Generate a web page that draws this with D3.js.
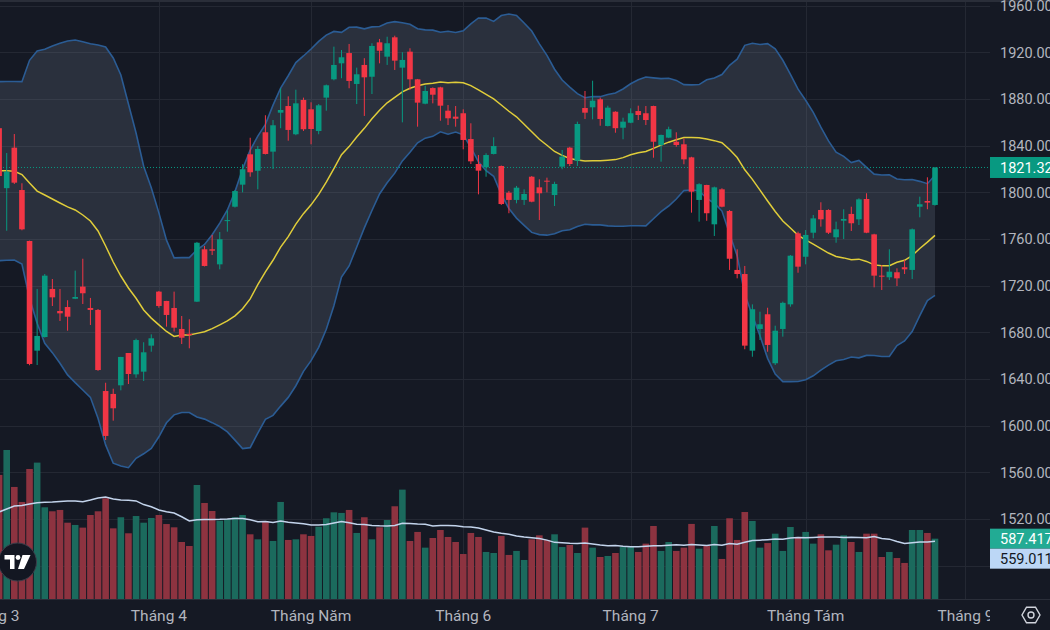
<!DOCTYPE html>
<html>
<head>
<meta charset="utf-8">
<script src="https://cdn.jsdelivr.net/npm/d3@7"></script>
<style>
  html, body { margin: 0; background: #151924; overflow: hidden; }
  text { font-family: Roboto, "Noto Sans", sans-serif; }
</style>
</head>
<body>
<svg id="chart"></svg>
<script>
// daily candles, first one is cut at the left edge
const open = [
  1855.0, 1803.6, 1838.3, 1802.0, 1758.3, 1664.3, 1676.0, 1717.2, 1698.3, 1701.7,
  1708.8, 1719.2, 1700.9, 1699.2, 1629.7, 1627.2, 1634.6, 1662.3, 1644.0, 1646.3,
  1668.6, 1714.9, 1706.9, 1700.9, 1682.9, 1678.8, 1706.3, 1751.2, 1751.2, 1738.3,
  1775.5, 1787.7, 1806.6, 1832.6, 1818.5, 1851.5, 1834.9, 1868.3, 1874.0, 1849.8,
  1879.2, 1871.2, 1852.6, 1881.2, 1896.9, 1910.6, 1919.4, 1892.9, 1909.2, 1899.1,
  1928.6, 1916.3, 1932.9, 1906.9, 1920.6, 1896.9, 1876.0, 1889.4, 1890.0, 1870.0,
  1864.9, 1867.8, 1845.7, 1824.3, 1821.5, 1832.9, 1822.6, 1799.7, 1793.5, 1793.5,
  1813.4, 1804.3, 1810.0, 1797.7, 1822.0, 1838.3, 1827.1, 1872.3, 1872.9, 1879.8,
  1856.9, 1869.1, 1855.4, 1859.7, 1869.7, 1867.8, 1874.0, 1840.6, 1846.9, 1843.4,
  1841.2, 1830.0, 1793.5, 1806.3, 1772.6, 1802.6, 1784.0, 1733.5, 1730.0, 1664.3,
  1682.9, 1695.5, 1653.5, 1682.9, 1704.0, 1764.9, 1744.8, 1765.4, 1784.9, 1784.9,
  1761.5, 1775.7, 1781.5, 1776.9, 1794.3, 1764.0, 1728.6, 1727.2, 1731.5, 1735.8,
  1733.5, 1787.7, 1792.6, 1789.2
];
const high = [
  1857.0, 1833.7, 1850.0, 1807.8, 1758.6, 1717.2, 1730.0, 1725.7, 1717.2, 1707.5,
  1732.9, 1743.1, 1709.5, 1700.0, 1636.8, 1631.7, 1659.0, 1662.3, 1674.6, 1671.5,
  1678.3, 1715.5, 1707.0, 1714.9, 1694.0, 1691.2, 1757.5, 1754.0, 1763.5, 1766.0,
  1784.3, 1802.0, 1824.1, 1846.8, 1839.7, 1866.1, 1862.0, 1889.2, 1882.3, 1888.0,
  1881.2, 1877.2, 1875.7, 1892.4, 1924.9, 1922.0, 1927.2, 1906.9, 1915.0, 1927.8,
  1931.5, 1933.4, 1934.3, 1920.1, 1923.5, 1897.2, 1891.4, 1890.0, 1890.5, 1874.9,
  1874.0, 1871.2, 1859.2, 1832.0, 1833.5, 1847.2, 1823.0, 1801.2, 1805.5, 1802.6,
  1814.0, 1811.2, 1812.6, 1809.1, 1836.3, 1839.0, 1860.6, 1886.9, 1895.7, 1881.2,
  1874.3, 1869.5, 1864.0, 1872.0, 1874.3, 1874.0, 1874.3, 1849.5, 1856.3, 1851.5,
  1846.3, 1830.5, 1807.8, 1806.5, 1804.9, 1803.5, 1784.9, 1751.2, 1736.9, 1704.0,
  1697.7, 1701.1, 1685.7, 1706.3, 1746.3, 1766.3, 1767.7, 1780.6, 1791.5, 1785.5,
  1774.9, 1785.5, 1787.7, 1794.9, 1799.2, 1764.5, 1737.7, 1751.2, 1734.9, 1742.0,
  1769.0, 1796.3, 1812.9, 1821.6
];
const low = [
  1812.0, 1767.1, 1807.2, 1767.5, 1651.8, 1652.0, 1675.5, 1702.6, 1689.7, 1681.4,
  1708.5, 1704.3, 1686.3, 1647.0, 1587.7, 1604.3, 1630.3, 1635.7, 1641.1, 1638.3,
  1663.4, 1701.1, 1684.9, 1680.6, 1670.0, 1666.3, 1706.0, 1736.5, 1746.3, 1734.0,
  1766.3, 1787.0, 1800.0, 1813.4, 1802.6, 1832.5, 1820.0, 1855.0, 1844.3, 1849.0,
  1852.6, 1841.2, 1849.8, 1870.0, 1896.0, 1897.8, 1889.2, 1875.7, 1865.5, 1884.3,
  1910.6, 1909.2, 1904.9, 1860.0, 1887.7, 1856.3, 1875.5, 1876.3, 1861.4, 1857.7,
  1856.3, 1836.9, 1824.3, 1798.3, 1813.4, 1832.5, 1789.2, 1782.1, 1790.6, 1789.2,
  1791.5, 1776.3, 1800.0, 1788.3, 1819.8, 1822.6, 1822.6, 1862.9, 1862.6, 1857.1,
  1856.5, 1851.1, 1845.5, 1859.3, 1862.0, 1857.7, 1829.7, 1826.3, 1846.5, 1839.1,
  1824.1, 1782.6, 1774.9, 1775.6, 1762.6, 1787.2, 1733.5, 1726.3, 1665.5, 1659.1,
  1673.4, 1663.4, 1652.0, 1676.3, 1702.0, 1731.1, 1738.3, 1760.6, 1770.6, 1764.3,
  1756.8, 1760.0, 1766.9, 1772.0, 1765.0, 1718.6, 1716.3, 1724.9, 1719.7, 1730.0,
  1725.7, 1778.6, 1785.5, 1788.6
];
const close = [
  1814.0, 1817.7, 1808.3, 1768.3, 1652.9, 1676.9, 1728.6, 1710.0, 1696.3, 1693.4,
  1710.3, 1713.5, 1699.2, 1647.7, 1591.2, 1614.9, 1658.9, 1644.3, 1673.4, 1662.9,
  1674.9, 1702.6, 1694.9, 1684.0, 1675.4, 1677.7, 1756.8, 1736.9, 1750.0, 1759.8,
  1776.2, 1801.1, 1819.8, 1817.2, 1837.2, 1832.9, 1857.5, 1870.6, 1853.5, 1876.3,
  1854.1, 1854.3, 1874.6, 1891.8, 1909.2, 1915.8, 1895.5, 1901.2, 1898.6, 1925.5,
  1921.4, 1927.8, 1912.9, 1913.5, 1896.9, 1876.9, 1886.9, 1883.7, 1874.3, 1863.5,
  1863.1, 1844.9, 1826.6, 1818.6, 1832.0, 1839.7, 1790.0, 1793.5, 1804.0, 1798.6,
  1792.0, 1799.2, 1809.2, 1807.2, 1830.6, 1824.3, 1858.6, 1868.3, 1878.6, 1862.9,
  1872.6, 1855.0, 1860.6, 1867.8, 1866.3, 1862.0, 1843.4, 1849.2, 1854.1, 1840.6,
  1828.3, 1800.6, 1807.0, 1782.1, 1804.3, 1787.7, 1743.1, 1730.0, 1668.6, 1699.8,
  1686.9, 1669.2, 1681.4, 1705.3, 1745.7, 1736.3, 1763.5, 1777.7, 1776.9, 1765.4,
  1768.3, 1777.2, 1773.5, 1794.0, 1765.4, 1728.6, 1727.7, 1732.0, 1726.3, 1734.0,
  1768.3, 1789.8, 1791.2, 1821.32
];
const volume = [
  1208, 1451, 1091, 945, 1266, 1328, 893, 854, 867, 743,
  721, 695, 818, 854, 981, 688, 796, 640, 808, 743,
  789, 818, 730, 698, 555, 516, 1110, 935, 857, 763,
  779, 796, 818, 630, 581, 753, 565, 945, 575, 581,
  630, 614, 704, 786, 844, 838, 867, 643, 796, 581,
  698, 769, 903, 1065, 565, 653, 500, 594, 672, 604,
  555, 438, 643, 604, 458, 448, 614, 429, 468, 380,
  581, 620, 575, 630, 506, 526, 448, 695, 500, 409,
  419, 448, 506, 506, 458, 539, 711, 468, 555, 468,
  500, 731, 490, 516, 711, 390, 786, 575, 847, 760,
  500, 545, 636, 468, 701, 604, 653, 539, 630, 474,
  529, 620, 555, 458, 636, 636, 409, 458, 399, 351,
  672, 672, 643, 587.417
];

// indicator values for the first bars, whose 20-day window starts before the visible range
const bbUpperHead = [1894.9, 1895.0, 1895.0, 1894.9, 1913.2, 1921.2, 1922.6, 1925.5, 1927.8, 1929.7,
  1930.6, 1929.1, 1927.4, 1926.3, 1924.6, 1915.2, 1900.6, 1875.7, 1850.9];
const bbBasisHead = [1818.6, 1818.6, 1818.0, 1815.3, 1808.0, 1801.1, 1797.7, 1794.3, 1790.9, 1787.5,
  1784.9, 1780.6, 1775.5, 1766.9, 1754.0, 1740.3, 1728.3, 1718.0, 1709.2];
const bbLowerHead = [1741.4, 1741.8, 1742.0, 1738.6, 1709.2, 1687.8, 1670.6, 1662.6, 1653.5, 1643.5,
  1636.9, 1630.6, 1624.3, 1606.3, 1583.5, 1567.8, 1565.5, 1564.0, 1572.0];
const volMaHead = [847, 877, 906, 911, 925, 938, 942, 945, 950, 955,
  955, 948, 964, 984, 993, 974, 964, 961, 955];

const monthIdx = [-1, 21, 41, 61, 83, 106, 127];
const monthLabels = ["Tháng 3", "Tháng 4", "Tháng Năm", "Tháng 6", "Tháng 7", "Tháng Tám", "Tháng 9"];
const priceTicks = [1960, 1920, 1880, 1840, 1800, 1760, 1720, 1680, 1640, 1600, 1560, 1520, 1480];

const width = 1050;
const height = 630;
const plotRight = 990;
const plotBottom = 599;
const upColor = "#089981";
const downColor = "#f23645";

const svg = d3.select("#chart")
    .attr("width", width)
    .attr("height", height);

const n = close.length;
const x = d3.scaleLinear().domain([0, n - 1]).range([-0.9, 935]);
const y = d3.scaleLinear().domain([1520, 1960]).range([519, 5.7]);
const yVol = d3.scaleLinear().domain([0, 1000]).range([plotBottom, 496.3]);

// 20-day bollinger (2 sd) and volume average
const period = 20;
const bands = d3.range(n).map(j => {
    if (j < bbBasisHead.length) {
        return {j, up: bbUpperHead[j], mid: bbBasisHead[j], lo: bbLowerHead[j], vma: volMaHead[j]};
    }
    const win = close.slice(j - period + 1, j + 1);
    const m = d3.mean(win);
    const sd = Math.sqrt(d3.mean(win, v => (v - m) * (v - m)));
    return {j, up: m + 2 * sd, mid: m, lo: m - 2 * sd,
        vma: d3.mean(volume.slice(j - period + 1, j + 1))};
});

const candles = d3.range(n).map(j => ({
    j, o: open[j], h: high[j], l: low[j], c: close[j], v: volume[j], up: close[j] >= open[j]
}));

svg.append("rect").attr("width", width).attr("height", height).attr("fill", "#151924");

svg.append("defs").append("clipPath").attr("id", "plot")
    .append("rect").attr("x", 0).attr("y", 0).attr("width", plotRight).attr("height", plotBottom);

const plot = svg.append("g").attr("clip-path", "url(#plot)");

// grid
plot.append("g").selectAll("line")
    .data(priceTicks)
    .enter().append("line")
    .attr("x1", 0).attr("x2", plotRight)
    .attr("y1", d => Math.round(y(d)) + 0.5).attr("y2", d => Math.round(y(d)) + 0.5)
    .attr("stroke", "#242833");

plot.append("g").selectAll("line")
    .data(monthIdx)
    .enter().append("line")
    .attr("x1", d => Math.round(x(d)) + 0.5).attr("x2", d => Math.round(x(d)) + 0.5)
    .attr("y1", 0).attr("y2", plotBottom)
    .attr("stroke", "#242833");

// volume
plot.append("g").selectAll("rect")
    .data(candles)
    .enter().append("rect")
    .attr("x", d => x(d.j) - 3.3)
    .attr("width", 6.6)
    .attr("y", d => yVol(d.v))
    .attr("height", d => plotBottom - yVol(d.v))
    .attr("fill", d => d.up ? "#1b6a5d" : "#8d3340");

plot.append("path")
    .datum(bands)
    .attr("fill", "none")
    .attr("stroke", "#c3d4ec")
    .attr("stroke-width", 1.5)
    .attr("d", d3.line().x(d => x(d.j)).y(d => yVol(d.vma)));

// bollinger bands
plot.append("path")
    .datum(bands)
    .attr("fill", "rgba(131,140,166,0.2)")
    .attr("d", d3.area().x(d => x(d.j)).y0(d => y(d.lo)).y1(d => y(d.up)));

["up", "lo"].forEach(k => {
    plot.append("path")
        .datum(bands)
        .attr("fill", "none")
        .attr("stroke", "#2b5c94")
        .attr("stroke-width", 1.6)
        .attr("d", d3.line().x(d => x(d.j)).y(d => y(d[k])));
});

plot.append("path")
    .datum(bands)
    .attr("fill", "none")
    .attr("stroke", "#e0cd3a")
    .attr("stroke-width", 1.5)
    .attr("d", d3.line().x(d => x(d.j)).y(d => y(d.mid)));

// last price line
const last = close[n - 1];
plot.append("line")
    .attr("x1", 0).attr("x2", plotRight)
    .attr("y1", y(last)).attr("y2", y(last))
    .attr("stroke", upColor)
    .attr("stroke-dasharray", "1,2");

// candles
const cg = plot.append("g");
cg.selectAll("line")
    .data(candles)
    .enter().append("line")
    .attr("x1", d => x(d.j)).attr("x2", d => x(d.j))
    .attr("y1", d => y(d.h)).attr("y2", d => y(d.l))
    .attr("stroke", d => d.up ? upColor : downColor)
    .attr("stroke-width", 1);

cg.selectAll("rect")
    .data(candles)
    .enter().append("rect")
    .attr("x", d => x(d.j) - 2.8)
    .attr("width", 5.6)
    .attr("y", d => y(Math.max(d.o, d.c)))
    .attr("height", d => Math.max(1, Math.abs(y(d.o) - y(d.c))))
    .attr("fill", d => d.up ? upColor : downColor);

// top strip and bottom separator
svg.append("rect").attr("x", 0).attr("y", 0).attr("width", width).attr("height", 2).attr("fill", "#2a2e39");
svg.append("line")
    .attr("x1", 0).attr("x2", width)
    .attr("y1", plotBottom + 0.5).attr("y2", plotBottom + 0.5)
    .attr("stroke", "#2a2e39");

// price axis
svg.append("g").selectAll("text")
    .data(priceTicks.filter(d => d >= 1520))
    .enter().append("text")
    .attr("x", 1000)
    .attr("y", d => y(d))
    .attr("dy", "0.36em")
    .attr("fill", "#b2b5be")
    .style("font-size", "14.5px")
    .text(d => d.toFixed(2));

const priceBox = svg.append("g");
priceBox.append("rect")
    .attr("x", plotRight).attr("y", y(last) - 10.5)
    .attr("width", 62).attr("height", 21)
    .attr("fill", upColor);
priceBox.append("text")
    .attr("x", 1000).attr("y", y(last)).attr("dy", "0.36em")
    .attr("fill", "#ffffff")
    .style("font-size", "14.5px")
    .text(last.toFixed(2));

const lastVol = volume[n - 1];
svg.append("rect")
    .attr("x", plotRight).attr("y", yVol(lastVol) - 10)
    .attr("width", 62).attr("height", 20)
    .attr("fill", "#22ab94");
svg.append("text")
    .attr("x", 1000).attr("y", yVol(lastVol)).attr("dy", "0.36em")
    .attr("fill", "#ffffff")
    .style("font-size", "14.5px")
    .text(lastVol.toFixed(3));
svg.append("rect")
    .attr("x", plotRight).attr("y", yVol(lastVol) + 10)
    .attr("width", 62).attr("height", 20)
    .attr("fill", "#bcd7f6");
svg.append("text")
    .attr("x", 1000).attr("y", yVol(lastVol) + 20).attr("dy", "0.36em")
    .attr("fill", "#131722")
    .style("font-size", "14.5px")
    .text("559.011");

// time axis
svg.append("defs").append("clipPath").attr("id", "timeclip")
    .append("rect").attr("x", 0).attr("y", plotBottom).attr("width", plotRight).attr("height", height - plotBottom);

svg.append("g").attr("clip-path", "url(#timeclip)")
    .selectAll("text")
    .data(monthIdx)
    .enter().append("text")
    .attr("x", d => x(d))
    .attr("y", 621)
    .attr("text-anchor", "middle")
    .attr("fill", "#b2b5be")
    .style("font-size", "15.5px")
    .text((d, i) => monthLabels[i]);

// settings icon
const gear = svg.append("g").attr("transform", "translate(1031,615)");
gear.append("path")
    .attr("d", d3.range(6).map(k => {
        const a = Math.PI / 3 * k;
        return (k ? "L" : "M") + (9 * Math.cos(a)).toFixed(2) + "," + (9 * Math.sin(a)).toFixed(2);
    }).join("") + "Z")
    .attr("fill", "none").attr("stroke", "#d1d4dc").attr("stroke-width", 1.4);
gear.append("circle").attr("r", 3).attr("fill", "none").attr("stroke", "#d1d4dc").attr("stroke-width", 1.4);

// logo
const logo = svg.append("g").attr("transform", "translate(17.5,562)");
logo.append("circle").attr("r", 19).attr("fill", "#131722").attr("stroke", "#3a3e4a");
logo.append("path").attr("d", "M-13,-7H-3V7H-7.5V-2.5H-13Z").attr("fill", "#ffffff");
logo.append("circle").attr("cx", 0.5).attr("cy", -4.5).attr("r", 2.4).attr("fill", "#ffffff");
logo.append("path").attr("d", "M5,-7H13L6.5,7H0.5Z").attr("fill", "#ffffff");
</script>
</body>
</html>
